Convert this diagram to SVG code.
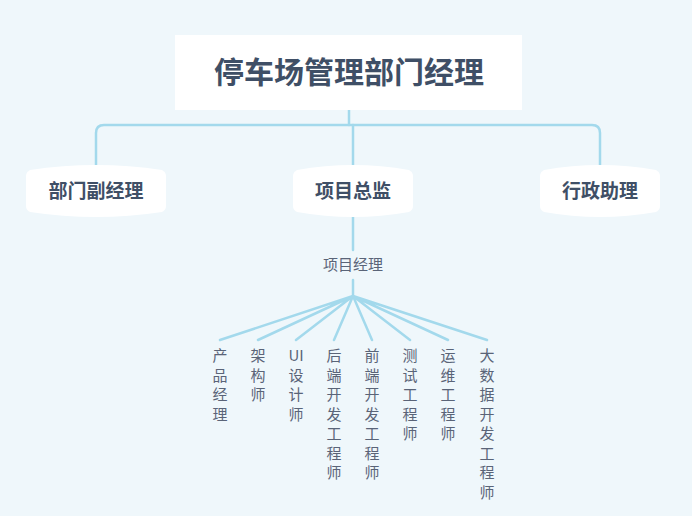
<svg xmlns="http://www.w3.org/2000/svg" width="692" height="516" viewBox="0 0 692 516">
<style>
.ln{fill:none;stroke:#a3d9ec;stroke-width:2.5;stroke-linecap:round}
.t{font-family:"Noto Sans CJK SC","Noto Sans",sans-serif;fill:#3f4f66;text-anchor:middle}
.b{font-weight:bold}
.c{font-size:15px;fill:#5a6478}
.nd{fill:#ffffff}
</style>
<rect width="692" height="516" fill="#eff7fb"/>
<g id="connectors">
<path class="ln" d="M349 110 V125"/>
<path class="ln" d="M96 165 V133 Q96 125 104 125 H592 Q600 125 600 133 V165"/>
<path class="ln" d="M353 125 V165"/>
<path class="ln" d="M353 217 V250"/>
<path class="ln" d="M353 280 V296"/>
<path class="ln" d="M353 296 L220 340 M353 296 L258 340 M353 296 L296 340 M353 296 L334 340 M353 296 L372 340 M353 296 L410 340 M353 296 L448 340 M353 296 L487 340"/>
</g>
<g id="root"><rect class="nd" x="175" y="35" width="347" height="75"/><text class="t b" x="349" y="83" font-size="30">停车场管理部门经理</text></g>
<g id="n1"><path class="nd" d="M30 170 Q96 160 162 170 Q166 172 166 176 V206 Q166 210 162 212 Q96 222 30 212 Q26 210 26 206 V176 Q26 172 30 170Z"/><text class="t b" x="96" y="198" font-size="19">部门副经理</text></g>
<g id="n2"><path class="nd" d="M297 170 Q353 160 409 170 Q413 172 413 176 V206 Q413 210 409 212 Q353 222 297 212 Q293 210 293 206 V176 Q293 172 297 170Z"/><text class="t b" x="353" y="198" font-size="19">项目总监</text></g>
<g id="n3"><path class="nd" d="M544 170 Q600 160 656 170 Q660 172 660 176 V206 Q660 210 656 212 Q600 222 544 212 Q540 210 540 206 V176 Q540 172 544 170Z"/><text class="t b" x="600" y="198" font-size="19">行政助理</text></g>
<g id="pm"><text class="t c" x="353" y="270">项目经理</text></g>
<g id="leaves" class="t c">
<text class="t c" x="220" y="361"><tspan x="220">产</tspan><tspan x="220" dy="19.5">品</tspan><tspan x="220" dy="19.5">经</tspan><tspan x="220" dy="19.5">理</tspan></text>
<text class="t c" x="258" y="361"><tspan x="258">架</tspan><tspan x="258" dy="19.5">构</tspan><tspan x="258" dy="19.5">师</tspan></text>
<text class="t c" x="296" y="361"><tspan x="296">UI</tspan><tspan x="296" dy="19.5">设</tspan><tspan x="296" dy="19.5">计</tspan><tspan x="296" dy="19.5">师</tspan></text>
<text class="t c" x="334" y="361"><tspan x="334">后</tspan><tspan x="334" dy="19.5">端</tspan><tspan x="334" dy="19.5">开</tspan><tspan x="334" dy="19.5">发</tspan><tspan x="334" dy="19.5">工</tspan><tspan x="334" dy="19.5">程</tspan><tspan x="334" dy="19.5">师</tspan></text>
<text class="t c" x="372" y="361"><tspan x="372">前</tspan><tspan x="372" dy="19.5">端</tspan><tspan x="372" dy="19.5">开</tspan><tspan x="372" dy="19.5">发</tspan><tspan x="372" dy="19.5">工</tspan><tspan x="372" dy="19.5">程</tspan><tspan x="372" dy="19.5">师</tspan></text>
<text class="t c" x="410" y="361"><tspan x="410">测</tspan><tspan x="410" dy="19.5">试</tspan><tspan x="410" dy="19.5">工</tspan><tspan x="410" dy="19.5">程</tspan><tspan x="410" dy="19.5">师</tspan></text>
<text class="t c" x="448" y="361"><tspan x="448">运</tspan><tspan x="448" dy="19.5">维</tspan><tspan x="448" dy="19.5">工</tspan><tspan x="448" dy="19.5">程</tspan><tspan x="448" dy="19.5">师</tspan></text>
<text class="t c" x="487" y="361"><tspan x="487">大</tspan><tspan x="487" dy="19.5">数</tspan><tspan x="487" dy="19.5">据</tspan><tspan x="487" dy="19.5">开</tspan><tspan x="487" dy="19.5">发</tspan><tspan x="487" dy="19.5">工</tspan><tspan x="487" dy="19.5">程</tspan><tspan x="487" dy="19.5">师</tspan></text>
</g>
</svg>
